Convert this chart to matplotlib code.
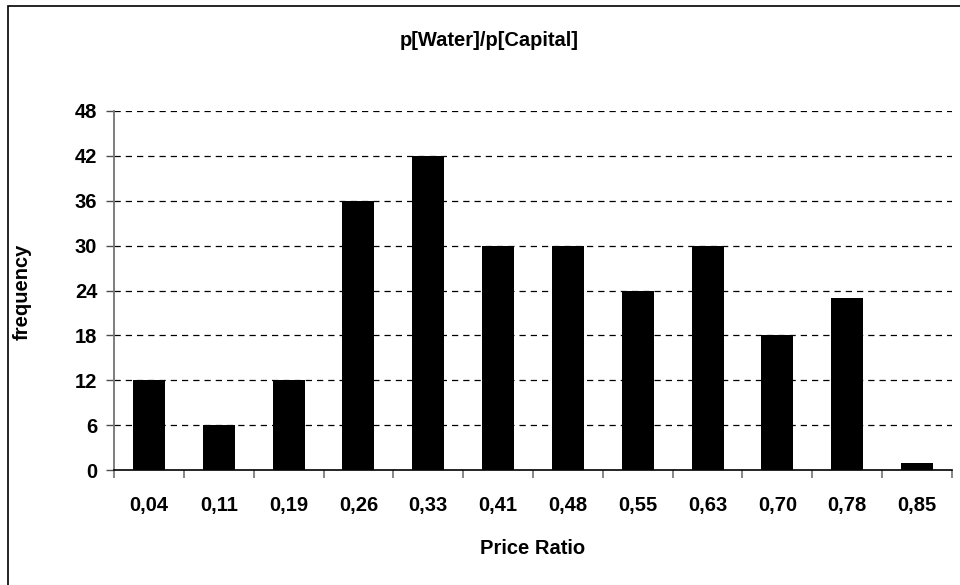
import matplotlib
matplotlib.use("Agg")
import matplotlib.pyplot as plt
import numpy as np
from matplotlib.patches import Rectangle

# Histogram of water / capital price ratios
bins = ["0,04", "0,11", "0,19", "0,26", "0,33", "0,41",
        "0,48", "0,55", "0,63", "0,70", "0,78", "0,85"]
counts = [12, 6, 12, 36, 42, 30, 30, 24, 30, 18, 23, 1]
y_ticks = [0, 6, 12, 18, 24, 30, 36, 42, 48]

plt.rcParams["font.family"] = ["Liberation Sans", "DejaVu Sans"]
plt.rcParams["font.weight"] = "bold"

W, H = 960, 585
fig = plt.figure(figsize=(W / 100, H / 100), dpi=100)
ax = fig.add_axes([114 / W, 1 - 470 / H, (952 - 114) / W, (470 - 111) / H])

# chart frame (right and bottom edges fall outside the image)
fig.patches.append(Rectangle((8 / W, -0.05), 1.1, 1 - 6 / H + 0.05,
                             transform=fig.transFigure, fill=False,
                             edgecolor="black", linewidth=1.2))

x = np.arange(len(bins))
ax.bar(x, counts, width=0.46, color="black", zorder=3)

ax.set_xlim(-0.5, len(bins) - 0.5)
ax.set_ylim(0, 48)
ax.set_yticks(y_ticks)
ax.set_yticklabels([str(v) for v in y_ticks], fontsize=14.5, fontweight="bold")
ax.set_xticks(x)
ax.set_xticklabels(bins, fontsize=14.5, fontweight="bold")
ax.set_xticks(np.arange(len(bins) + 1) - 0.5, minor=True)
ax.tick_params(axis="x", which="major", length=0, pad=19)
ax.tick_params(axis="x", which="minor", length=6, color="0.45", width=1.2)
ax.tick_params(axis="y", length=6, color="0.3", width=1, pad=6)

for v in y_ticks[1:]:
    ax.axhline(v, color="black", linestyle=(0, (5, 4)), linewidth=0.9, zorder=1)

for side in ("top", "right"):
    ax.spines[side].set_visible(False)
ax.spines["left"].set_color("0.45")
ax.spines["left"].set_linewidth(1.3)
ax.spines["bottom"].set_color("black")
ax.spines["bottom"].set_linewidth(1.2)
ax.spines["bottom"].set_zorder(4)

fig.text(489 / W, 1 - 41 / H, "p[Water]/p[Capital]", ha="center", va="center",
         fontsize=14.5, fontweight="bold")
fig.text(533 / W, 1 - 548 / H, "Price Ratio", ha="center", va="center",
         fontsize=14.5, fontweight="bold")
fig.text(22 / W, 1 - 292 / H, "frequency", ha="center", va="center",
         rotation=90, fontsize=14.5, fontweight="bold")

fig.savefig("out.png", dpi=100, facecolor="white")
